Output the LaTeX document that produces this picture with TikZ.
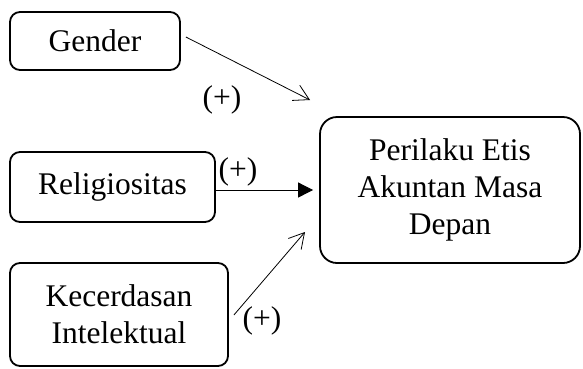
\documentclass[tikz,border=0pt]{standalone}
\usepackage{fontspec}
\setmainfont{Liberation Serif}
\usetikzlibrary{arrows.meta,calc}
\begin{document}
\begin{tikzpicture}[x=1pt,y=-1pt,
  box/.style={draw,line width=1.8pt,rounded corners=10pt,align=center,inner sep=0pt,font=\fontsize{31.5}{37}\selectfont},
  lbl/.style={font=\fontsize{31.5}{37}\selectfont,inner sep=0pt},
  conn/.style={line width=0.8pt},
  openhead/.style={-{Straight Barb[length=15pt,width=17pt,line width=0.8pt]}}]
\useasboundingbox (0,0) rectangle (583,368);
\node[box,minimum width=170pt,minimum height=58pt] (G) at (95,41) {Gender};
\node[box,minimum width=205pt,minimum height=70pt] (R) at (112.5,187) {Religiositas};
\node[box,minimum width=218pt,minimum height=103pt] (K) at (119,314.5) {Kecerdasan\\Intelektual};
\node[box,rounded corners=17pt,minimum width=260pt,minimum height=146pt] (P) at (450,190) {Perilaku Etis\\Akuntan Masa\\Depan};
\coordinate (gs) at ($(G.east)+(5,-4)$);
\coordinate (ge) at (310,100);
\coordinate (ks) at ($(K.east)+(5,0.5)$);
\coordinate (ke) at (305,232);
\draw[conn,openhead] (gs) -- (ge);
\draw[conn,-{Triangle[length=15pt,width=15pt]},shorten >=6pt] (R.east|-P.west) -- (P.west);
\draw[conn,openhead] (ks) -- (ke);
\node[lbl] (l1) at (222,100) {(+)};
\node[lbl] (l2) at (238,172) {(+)};
\node[lbl] (l3) at (262,321) {(+)};
\end{tikzpicture}
\end{document}
